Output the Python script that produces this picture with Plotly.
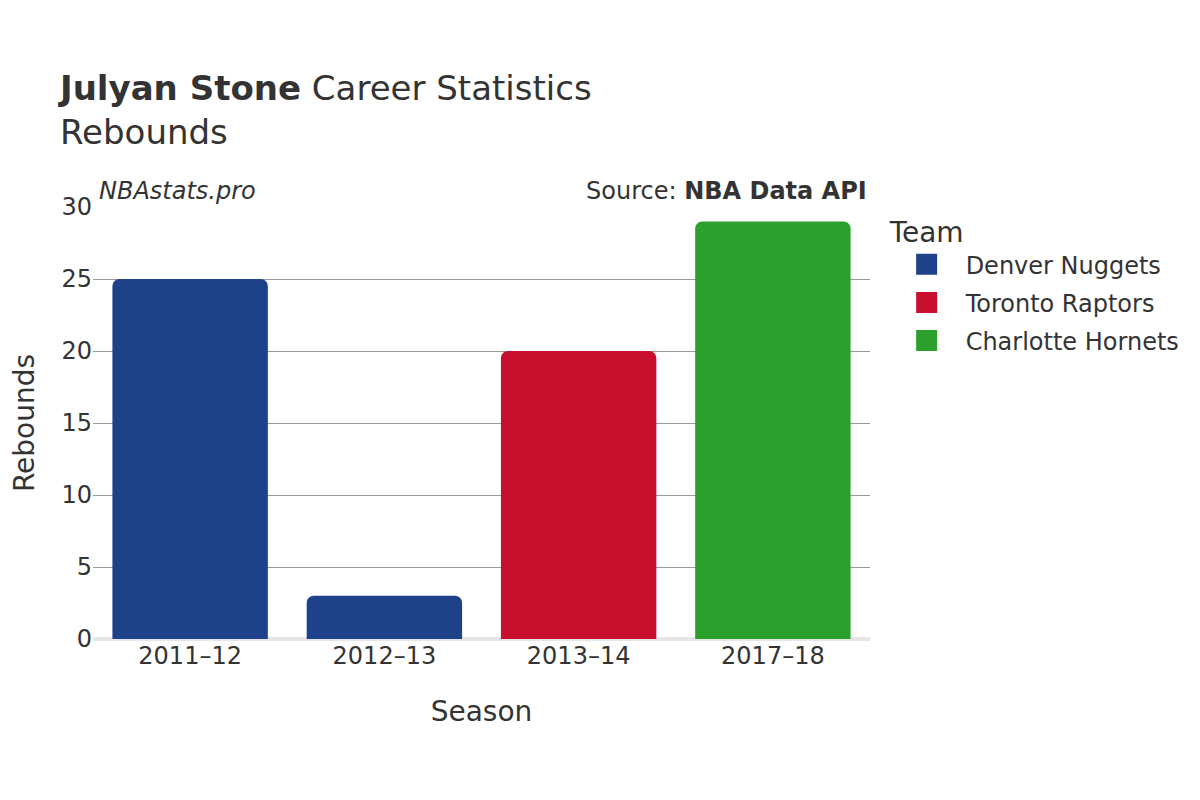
import plotly.graph_objects as go

seasons = ["2011–12", "2012–13", "2013–14", "2017–18"]
teams = ["Denver Nuggets", "Denver Nuggets", "Toronto Raptors", "Charlotte Hornets"]
rebounds = [25, 3, 20, 29]
team_order = ["Denver Nuggets", "Toronto Raptors", "Charlotte Hornets"]
team_colors = {"Denver Nuggets": "#1D428A", "Toronto Raptors": "#C8102E", "Charlotte Hornets": "#2CA02C"}

FONT = "DejaVu Sans"
fig = go.Figure()
for t in team_order:
    xs = [s for s, tm in zip(seasons, teams) if tm == t]
    ys = [v for v, tm in zip(rebounds, teams) if tm == t]
    fig.add_trace(go.Bar(x=xs, y=ys, name=t, marker_color=team_colors[t],
                         marker_line_width=0, showlegend=False, legendgroup=t))
    # legend entry (larger square symbol)
    fig.add_trace(go.Scatter(x=[None], y=[None], name=t, mode="markers",
                             legendgroup=t, showlegend=True,
                             marker=dict(symbol="square", size=16, color=team_colors[t],
                                         line=dict(color=team_colors[t], width=5))))

fig.update_layout(
    width=1200, height=800,
    paper_bgcolor="white", plot_bgcolor="white",
    font=dict(family=FONT, color="#333333", size=24),
    barmode="overlay", bargap=0.2, barcornerradius=7,
    margin=dict(l=85, r=338, t=199, b=169, autoexpand=False),
    title=dict(text="<b>Julyan Stone</b> Career Statistics<br>Rebounds",
               x=52/1200, xanchor="left", y=0.885, yanchor="top",
               font=dict(size=34, family=FONT, color="#333333")),
    xaxis=dict(title=dict(text="Season", font=dict(size=28), standoff=32),
               categoryorder="array", categoryarray=seasons, automargin=False,
               tickfont=dict(size=24), showgrid=False, ticks=""),
    yaxis=dict(title=dict(text="Rebounds", font=dict(size=28), standoff=34),
               range=[0, 30], dtick=5, tickfont=dict(size=24), automargin=False,
               gridcolor="#999999", gridwidth=1,
               zeroline=True, zerolinecolor="#e6e6e6", zerolinewidth=4, ticks=""),
    legend=dict(title=dict(text="Team", font=dict(size=28)),
                font=dict(size=24), x=1.0227, xanchor="left", y=1.003, yanchor="top",
                itemwidth=68, tracegroupgap=4, traceorder="grouped"),
    showlegend=True,
)
fig.add_annotation(text="<i>NBAstats.pro</i>", xref="paper", yref="paper",
                   x=0.005, y=1.0, xanchor="left", yanchor="bottom",
                   showarrow=False, font=dict(size=24, family=FONT, color="#333333"))
fig.add_annotation(text="Source: <b>NBA Data API</b>", xref="paper", yref="paper",
                   x=0.999, y=1.0, xanchor="right", yanchor="bottom",
                   showarrow=False, font=dict(size=24, family=FONT, color="#333333"))
fig.write_html("out.html")
